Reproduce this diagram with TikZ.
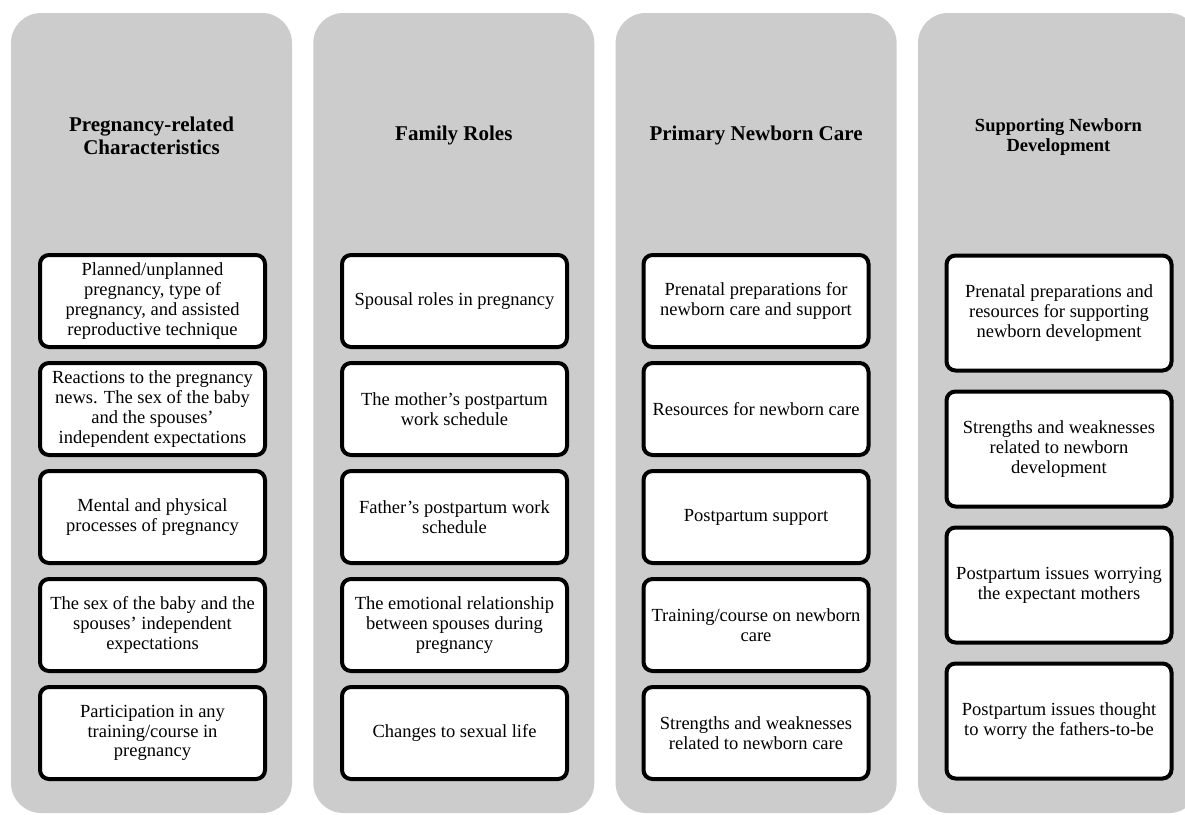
\documentclass[tikz,border=0pt]{standalone}
\usepackage{fontspec}
\setmainfont{Liberation Serif}
\usepackage{tikz}
\usetikzlibrary{positioning}

\definecolor{colgrey}{RGB}{204,204,204}

\tikzset{
  column/.style={fill=colgrey, rounded corners=30pt, minimum width=281pt, minimum height=800pt, inner sep=0pt},
  title/.style={align=center, font=\fontsize{21}{23}\selectfont\bfseries, inner sep=0pt},
  item/.style={draw=black, line width=4pt, fill=white, rounded corners=9pt, align=center,
    minimum width=225pt, minimum height=92pt, inner sep=2pt, font=\fontsize{18.5}{19.7}\selectfont},
  itemtall/.style={item, minimum height=115pt}
}

\begin{document}
\begin{tikzpicture}[x=1pt,y=-1pt]
  \useasboundingbox (0,0) rectangle (1185,814);
  \clip (0,0) rectangle (1185,814);
  % grey columns
  \foreach \i/\cx in {1/151.5,2/453.8,3/756.1,4/1058.5}
    \node[column] (col\i) at (\cx,413) {};

  % headings
  \node[title] (t1) at (151.5,136) {Pregnancy-related\\Characteristics};
  \node[title] (t2) at (453.8,135) {Family Roles};
  \node[title] (t3) at (756.1,135) {Primary Newborn Care};
  \node[title, font=\fontsize{18.5}{20}\selectfont\bfseries] (t4) at (1058.5,137) {Supporting Newborn\\Development};

  % pregnancy-related characteristics
  \node[item] (a1) at (152.5,301) {Planned/unplanned\\pregnancy, type of\\pregnancy, and assisted\\reproductive technique};
  \node[item] (a2) at (152.5,409) {Reactions to the pregnancy\\news. The sex of the baby\\and the spouses'\\independent expectations};
  \node[item] (a3) at (152.5,517) {Mental and physical\\processes of pregnancy};
  \node[item] (a4) at (152.5,625) {The sex of the baby and the\\spouses' independent\\expectations};
  \node[item] (a5) at (152.5,733) {Participation in any\\training/course in\\pregnancy};

  % family roles
  \node[item] (b1) at (454.5,301) {Spousal roles in pregnancy};
  \node[item] (b2) at (454.5,409) {The mother's postpartum\\work schedule};
  \node[item] (b3) at (454.5,517) {Father's postpartum work\\schedule};
  \node[item] (b4) at (454.5,625) {The emotional relationship\\between spouses during\\pregnancy};
  \node[item] (b5) at (454.5,733) {Changes to sexual life};

  % primary newborn care
  \node[item] (c1) at (756,301) {Prenatal preparations for\\newborn care and support};
  \node[item] (c2) at (756,409) {Resources for newborn care};
  \node[item] (c3) at (756,517) {Postpartum support};
  \node[item] (c4) at (756,625) {Training/course on newborn\\care};
  \node[item] (c5) at (756,733) {Strengths and weaknesses\\related to newborn care};

  % supporting newborn development
  \node[itemtall] (d1) at (1059,313) {Prenatal preparations and\\resources for supporting\\newborn development};
  \node[itemtall] (d2) at (1059,449) {Strengths and weaknesses\\related to newborn\\development};
  \node[itemtall] (d3) at (1059,585) {Postpartum issues worrying\\the expectant mothers};
  \node[itemtall] (d4) at (1059,721) {Postpartum issues thought\\to worry the fathers-to-be};
\end{tikzpicture}
\end{document}
